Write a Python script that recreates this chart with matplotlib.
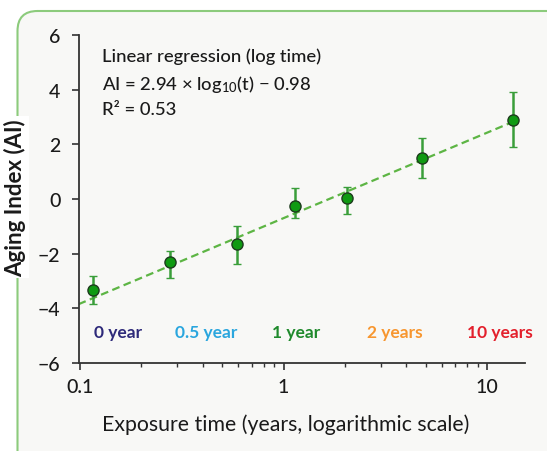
import matplotlib
matplotlib.use("Agg")
import matplotlib.pyplot as plt
from matplotlib.patches import FancyBboxPatch
from matplotlib.ticker import LogLocator, NullFormatter, FixedLocator
import numpy as np

plt.rcParams['font.family'] = ['Lato', 'DejaVu Sans']
plt.rcParams['font.weight'] = 'medium'
plt.rcParams['mathtext.default'] = 'regular'

# data
time_years = [0.115, 0.275, 0.589, 1.14, 2.06, 4.8, 13.4]
aging_index = [-3.34, -2.32, -1.65, -0.25, 0.02, 1.49, 2.89]
err_low = [0.50, 0.57, 0.72, 0.46, 0.57, 0.73, 0.99]
err_high = [0.53, 0.41, 0.67, 0.67, 0.41, 0.76, 1.01]

# fitted line as drawn (ends)
fit_x = [0.098, 13.4]
fit_y = [-3.85, 2.82]

stage_labels = ['0 year', '0.5 year', '1 year', '2 years', '10 years']
stage_colors = ['#2e2a7a', '#2aa6de', '#1f8a2c', '#f7962f', '#e3202c']

y_ticks = [-6, -4, -2, 0, 2, 4, 6]
x_ticks = [0.1, 1, 10]
x_ticklabels = ['0.1', '1', '10']

fig = plt.figure(figsize=(5.47, 4.52), dpi=100)
fig.patch.set_facecolor('white')

# rounded panel frame (pixel coords)
frame = FancyBboxPatch((17.5, -40), 560, 40 + 452 - 12,
                       boxstyle='round,pad=0,rounding_size=20',
                       transform=None, facecolor='#f8f8f6',
                       edgecolor='#8ccb7c', linewidth=1.5, zorder=-5)
fig.patches.append(frame)

ax = fig.add_axes([78.5 / 547, 1 - 364 / 452, (525 - 78.5) / 547, (364 - 36) / 452])
ax.set_zorder(2)
ax.set_facecolor('none')

ax.plot(fit_x, fit_y, color='#5db544', lw=1.6, dashes=(3.5, 2), zorder=2)
ax.errorbar(time_years, aging_index, yerr=[err_low, err_high], fmt='o',
            color='#3a9e3a', ecolor='#3a9e3a', elinewidth=1.8, capsize=3,
            capthick=1.6, markersize=8, markerfacecolor='#0f9a12',
            markeredgecolor='#1d3b1d', markeredgewidth=1.0, zorder=3)

ax.set_xscale('log')
ax.set_xlim(0.098, 15.4)
ax.set_ylim(-6, 6)
ax.xaxis.set_major_locator(FixedLocator(x_ticks))
ax.set_xticklabels(x_ticklabels)
ax.xaxis.set_minor_locator(LogLocator(base=10, subs=np.arange(2, 10)))
ax.xaxis.set_minor_formatter(NullFormatter())
ax.set_yticks(y_ticks)
ax.set_yticklabels([str(v).replace('-', '\u2212') for v in y_ticks])

for side in ['top', 'right']:
    ax.spines[side].set_visible(False)
for side in ['left', 'bottom']:
    ax.spines[side].set_color('#333333')
    ax.spines[side].set_linewidth(1.3)

ax.tick_params(axis='both', which='major', direction='out', length=5,
               width=1.2, color='#333333', labelsize=14, labelcolor='#1a1a1a')
ax.tick_params(axis='x', which='minor', direction='out', length=3,
               width=1.0, color='#333333')
ax.tick_params(axis='x', which='major', pad=6)
ax.tick_params(axis='y', which='major', pad=8)

ax.set_xlabel('Exposure time (years, logarithmic scale)', fontsize=15.3,
              color='#1a1a1a', labelpad=10)
ax.xaxis.set_label_coords((286 - 78.5) / 446.5, -0.155)
fig.text(15 / 547, 1 - 198 / 452, 'Aging Index (AI)', rotation=90,
         fontsize=16, fontweight='bold', color='#1a1a1a',
         ha='center', va='center', zorder=3,
         bbox=dict(facecolor='white', edgecolor='none', pad=2))

ax.text(0.053, 0.937, 'Linear regression (log time)', transform=ax.transAxes,
        fontsize=13.3, color='#1a1a1a', va='center')
ax.text(0.053, 0.853, 'AI = 2.94 \u00d7 log$_{10}$(t) \u2212 0.98', transform=ax.transAxes,
        fontsize=13.3, color='#1a1a1a', va='center')
ax.text(0.053, 0.774, 'R\u00b2 = 0.53', transform=ax.transAxes,
        fontsize=13.3, color='#1a1a1a', va='center')

stage_x = [(118 - 78.5) / 446.5, (206 - 78.5) / 446.5, (296 - 78.5) / 446.5,
           (395 - 78.5) / 446.5, (500 - 78.5) / 446.5]
for xp, lab, col in zip(stage_x, stage_labels, stage_colors):
    ax.text(xp, 0.094, lab, transform=ax.transAxes, color=col,
            fontsize=12.5, fontweight='bold', ha='center', va='center')

fig.savefig('out.png', dpi=100)
